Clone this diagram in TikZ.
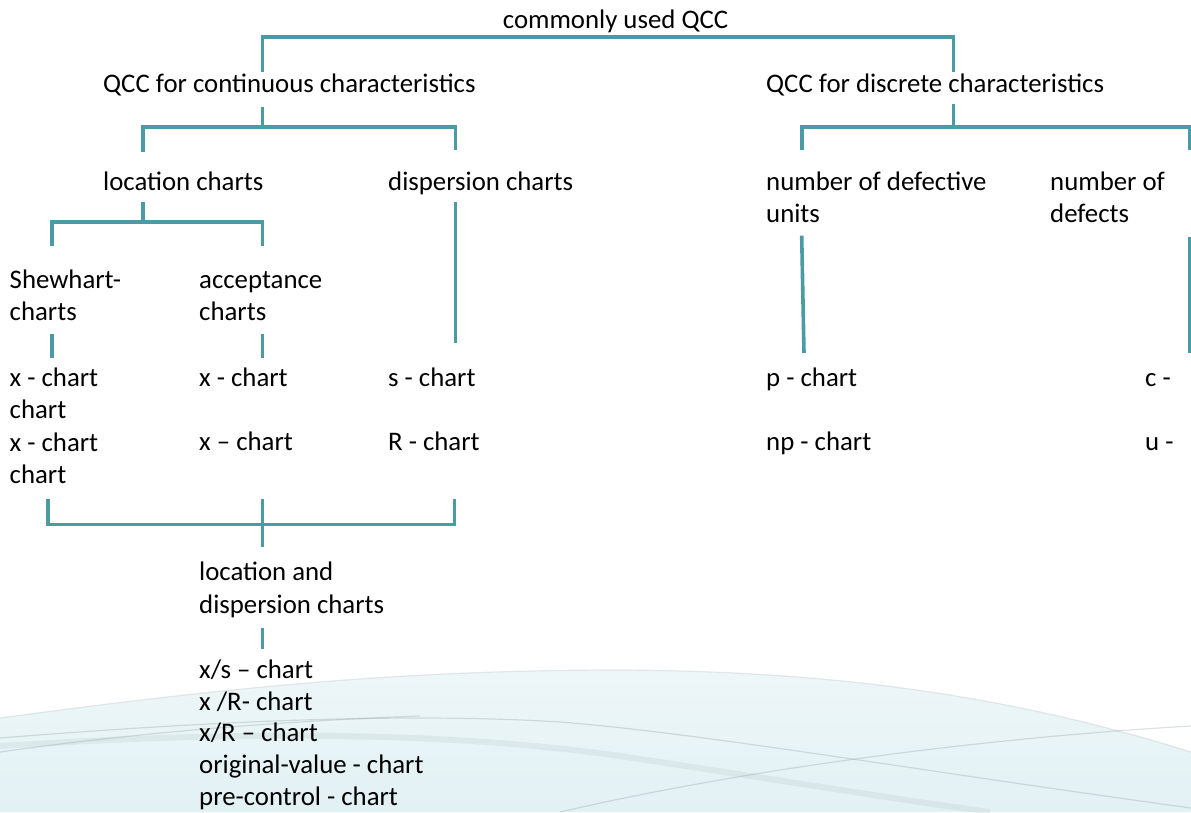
\documentclass[tikz,border=0pt]{standalone}
\usepackage{fontspec}
\setmainfont{Carlito}

\definecolor{qccteal}{HTML}{4A9BA6}
\definecolor{swooshblue}{HTML}{E2F1F4}
\definecolor{swooshgray}{HTML}{8C9BA0}

\tikzset{
  link/.style={qccteal, line width=3.6pt},
  % base west of a multi-line label is the baseline of its last line
  lbl/.style={anchor=base west, inner sep=0pt, align=left,
    font=\fontsize{26.8}{32.5}\selectfont},
  streak/.style={swooshgray, opacity=.3, line width=1.2pt},
}

\begin{document}
\begin{tikzpicture}[x=1pt,y=-1pt]
  \useasboundingbox (0,0) rectangle (1191,812);

  % soft wave in the lower part
  \shade[top color=swooshblue!60, bottom color=swooshblue]
    (0,718) .. controls (250,684) and (420,670) .. (620,670)
    .. controls (820,671) and (1000,692) .. (1191,752) -- (1191,812) -- (0,812) -- cycle;
  \draw[streak, opacity=.2] (0,718) .. controls (250,684) and (420,670) .. (620,670)
    .. controls (820,671) and (1000,692) .. (1191,752);
  \draw[streak] (0,738) .. controls (200,722) and (400,712) .. (560,722)
    .. controls (700,733) and (900,768) .. (1191,808);
  \draw[streak, line width=6pt, opacity=.12] (0,746) .. controls (250,730) and (450,732) .. (620,756)
    .. controls (760,777) and (900,800) .. (990,812);
  \draw[streak] (0,752) .. controls (120,735) and (260,722) .. (420,716);
  \draw[streak] (560,812) .. controls (720,775) and (950,740) .. (1191,726);

  % labels
  \node[lbl] (root) at (502.7,28.3) {commonly used QCC};
  \node[lbl] (qcont) at (103,92.7) {QCC for continuous characteristics};
  \node[lbl] (qdisc) at (766,92.7) {QCC for discrete characteristics};

  \node[lbl] (loc) at (103,190) {location charts};
  \node[lbl] (disp) at (388,190) {dispersion charts};
  \node[lbl] (defunits) at (766,222.5) {number of defective\\units};
  \node[lbl] (defects) at (1050,222.5) {number of\\defects};

  \node[lbl] (shew) at (9.5,320.8) {Shewhart-\\charts};
  \node[lbl] (accept) at (199,320.8) {acceptance\\charts};

  \node[lbl] (shewlist) at (9.5,483.5) {x - chart\\chart\\x - chart\\chart};
  \node[lbl] (acclist) at (199,450.5) {x - chart\\[32pt]x – chart};
  \node[lbl] (displist) at (388,450.5) {s - chart\\[32pt]R - chart};
  \node[lbl] (unitlist) at (766,450.5) {p - chart\\[32pt]np - chart};
  \node[lbl] (deflist) at (1145,450.5) {c -\\[32pt]u -};

  \node[lbl] (locdisp) at (199,613) {location and\\dispersion charts};
  \node[lbl, font=\fontsize{26.8}{31.8}\selectfont] (ldlist) at (199,805.5)
    {x/s – chart\\x /R- chart\\x/R – chart\\original-value - chart\\pre-control - chart};

  % bracket corners and stub ends
  \coordinate (rootL) at (262.5,36.7);
  \coordinate (rootR) at (953.6,36.7);
  \coordinate (contJ) at (262.5,127);
  \coordinate (contL) at (142.7,127);
  \coordinate (contR) at (455.4,127);
  \coordinate (discJ) at (953.6,126.7);
  \coordinate (discL) at (801.7,126.7);
  \coordinate (discR) at (1190,126.7);
  \coordinate (locJ) at (142.7,221.7);
  \coordinate (locL) at (51.7,221.7);
  \coordinate (locR) at (262.5,221.7);
  \coordinate (allL) at (47.8,524.3);
  \coordinate (allJ) at (262.5,524.3);
  \coordinate (allR) at (454.6,524.3);

  % connectors
  \draw[link] ([yshift=-35pt]rootL) -- (rootL) -- (rootR) -- ([yshift=-35pt]rootR);

  \draw[link] ([yshift=20.3pt]contJ) -- (contJ);
  \draw[link] ([yshift=-24.7pt]contL) -- (contL) -- (contR) -- ([yshift=-23pt]contR);
  \draw[link] ([yshift=22.7pt]discJ) -- (discJ);
  \draw[link] ([yshift=-23.3pt]discL) -- (discL) -- (discR) -- ([yshift=-23.3pt]discR);

  \draw[link] ([yshift=20pt]locJ) -- (locJ);
  \draw[link] ([yshift=-24.3pt]locL) -- (locL) -- (locR) -- ([yshift=-24.3pt]locR);
  \draw[link] ([yshift=-74.7pt]contR) -- ([yshift=-215.7pt]contR);
  \draw[link] ([yshift=-109pt]discL) -- ([shift={(2.3pt,-226.3pt)}]discL);
  \draw[link] ([yshift=-110pt]discR) -- ([yshift=-226.3pt]discR);

  \draw[link] ([yshift=-112.6pt]locL) -- ([yshift=-136.3pt]locL);
  \draw[link] ([yshift=-112.6pt]locR) -- ([yshift=-136.3pt]locR);

  \draw[link] ([yshift=25pt]allL) -- (allL) -- (allR) -- ([yshift=25pt]allR);
  \draw[link] ([yshift=25pt]allJ) -- ([yshift=-22.4pt]allJ);
  \draw[link] ([yshift=-103.4pt]allJ) -- ([yshift=-125pt]allJ);
\end{tikzpicture}
\end{document}
